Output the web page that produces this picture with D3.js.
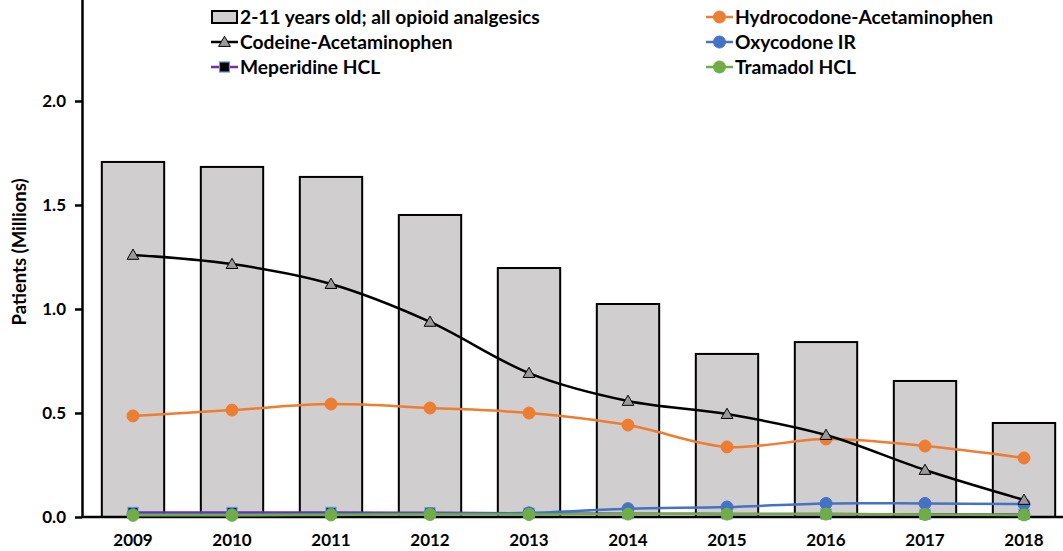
<!DOCTYPE html>
<html>
<head>
<meta charset="utf-8">
<script src="https://cdn.jsdelivr.net/npm/d3@7"></script>
<style>
  html, body { margin: 0; padding: 0; background: #fff; }
  svg { display: block; font-family: Lato, "Open Sans", sans-serif; font-weight: 700; }
</style>
</head>
<body>
<svg id="chart" width="1063" height="551"></svg>
<script>
// Years on the category axis
const years = ["2009","2010","2011","2012","2013","2014","2015","2016","2017","2018"];

// Patients, millions
const allOpioids   = [1.707, 1.683, 1.635, 1.452, 1.197, 1.024, 0.784, 0.841, 0.654, 0.452];
const codeine      = [1.260, 1.216, 1.120, 0.938, 0.692, 0.558, 0.495, 0.394, 0.226, 0.082];
const hydrocodone  = [0.486, 0.514, 0.543, 0.524, 0.500, 0.442, 0.337, 0.375, 0.341, 0.284];
const oxycodone    = [0.012, 0.012, 0.014, 0.016, 0.020, 0.040, 0.048, 0.065, 0.065, 0.062];
const meperidine   = [0.022, 0.022, 0.022, 0.020, 0.018, 0.016, 0.015, 0.014, 0.013, 0.012];
const tramadol     = [0.008, 0.008, 0.010, 0.012, 0.012, 0.014, 0.014, 0.014, 0.012, 0.010];

const yTicks = [0, 0.5, 1.0, 1.5, 2.0];

const svg = d3.select("#chart");
const margin = { left: 82, top: -3, bottom: 517 };

const x = d3.scaleBand().domain(years).range([83.5, 1073.5]).paddingInner(0.37).paddingOuter(0.185);
const xc = d => x(d) + x.bandwidth() / 2;
const y = d3.scaleLinear().domain([0, 2.5]).range([margin.bottom, margin.top]);

// Bars: all opioid analgesics
svg.append("g").selectAll("rect").data(years).join("rect")
  .attr("x", d => x(d))
  .attr("y", (d, i) => y(allOpioids[i]))
  .attr("width", x.bandwidth())
  .attr("height", (d, i) => y(0) - y(allOpioids[i]))
  .attr("fill", "#d0cece")
  .attr("stroke", "#000")
  .attr("stroke-width", 2);

// Y axis
const yAxis = svg.append("g").attr("transform", `translate(${margin.left},0)`)
  .call(d3.axisLeft(y).tickValues(yTicks).tickFormat(d3.format(".1f")).tickSize(7).tickSizeOuter(0));
yAxis.select(".domain").attr("stroke", "#000").attr("stroke-width", 2.5);
yAxis.selectAll(".tick line").attr("stroke", "#000").attr("stroke-width", 2.5);
yAxis.selectAll(".tick text").attr("font-size", 17).attr("font-weight", 700)
  .attr("font-family", "Lato, sans-serif").attr("fill", "#000").attr("x", -16);

// X axis
const xAxis = svg.append("g").attr("transform", `translate(0,${margin.bottom})`)
  .call(d3.axisBottom(x).tickSize(0).tickSizeOuter(0));
xAxis.select(".domain").attr("stroke", "#000").attr("stroke-width", 2.5)
  .attr("d", `M${margin.left},0H1063`);
xAxis.selectAll(".tick text").attr("font-size", 17).attr("font-weight", 700)
  .attr("font-family", "Lato, sans-serif").attr("fill", "#000").attr("y", 17).attr("dy", "0.71em");

// Y axis title
svg.append("text")
  .attr("transform", `translate(26,252) rotate(-90)`)
  .attr("text-anchor", "middle")
  .attr("font-size", 18.5)
  .text("Patients (Millions)");

const line = vals => d3.line().curve(d3.curveCardinal.tension(0))
  .x((d, i) => xc(years[i])).y(d => y(d))(vals);

const series = [
  { name: "Tramadol HCL", values: tramadol, color: "#70ad47", marker: "circle" },
  { name: "Meperidine HCL", values: meperidine, color: "#7030a0", marker: "square" },
  { name: "Oxycodone IR", values: oxycodone, color: "#4472c4", marker: "circle" },
  { name: "Hydrocodone-Acetaminophen", values: hydrocodone, color: "#ed7d31", marker: "circle" },
  { name: "Codeine-Acetaminophen", values: codeine, color: "#000", marker: "triangle" }
];

function drawMarker(g, type, color, cx, cy) {
  if (type === "circle") {
    g.append("circle").attr("cx", cx).attr("cy", cy).attr("r", 6)
      .attr("fill", color).attr("stroke", color).attr("stroke-width", 1);
  } else if (type === "square") {
    g.append("rect").attr("x", cx - 5).attr("y", cy - 5).attr("width", 10).attr("height", 10)
      .attr("fill", "#000").attr("stroke", "#5b9bd5").attr("stroke-width", 1.2);
  } else {
    const s = d3.symbol().type(d3.symbolTriangle).size(60)();
    g.append("path").attr("d", s).attr("transform", `translate(${cx},${cy + 1})`)
      .attr("fill", "#9a9a9a").attr("stroke", "#000").attr("stroke-width", 1);
  }
}

// Draw order: lines for small series first, markers on top
const order = [series[1], series[2], series[0], series[3], series[4]];
order.forEach(s => {
  const g = svg.append("g");
  g.append("path").attr("d", line(s.values)).attr("fill", "none")
    .attr("stroke", s.color).attr("stroke-width", 2.5).attr("stroke-linejoin", "round");
  s.values.forEach((v, i) => drawMarker(g, s.marker, s.color, xc(years[i]), y(v)));
});

// Legend
const legend = svg.append("g").attr("font-size", 19.2);
const leftItems = [
  { name: "2-11 years old; all opioid analgesics", type: "bar" },
  { name: "Codeine-Acetaminophen", color: "#000", marker: "triangle" },
  { name: "Meperidine HCL", color: "#7030a0", marker: "square" }
];
const rightItems = [
  { name: "Hydrocodone-Acetaminophen", color: "#ed7d31", marker: "circle" },
  { name: "Oxycodone IR", color: "#4472c4", marker: "circle" },
  { name: "Tramadol HCL", color: "#70ad47", marker: "circle" }
];
const rowY = [17, 42, 67];
function legendItem(item, x0, yy) {
  if (item.type === "bar") {
    legend.append("rect").attr("x", x0 + 1).attr("y", yy - 6).attr("width", 25).attr("height", 12)
      .attr("fill", "#d0cece").attr("stroke", "#000").attr("stroke-width", 2);
  } else {
    legend.append("line").attr("x1", x0).attr("x2", x0 + 27).attr("y1", yy).attr("y2", yy)
      .attr("stroke", item.color).attr("stroke-width", 2.5);
    drawMarker(legend, item.marker, item.color, x0 + 13.5, yy);
  }
  legend.append("text").attr("x", x0 + 29).attr("y", yy).attr("dy", "0.35em").text(item.name);
}
leftItems.forEach((it, i) => legendItem(it, 211, rowY[i]));
rightItems.forEach((it, i) => legendItem(it, 706, rowY[i]));
</script>
</body>
</html>
